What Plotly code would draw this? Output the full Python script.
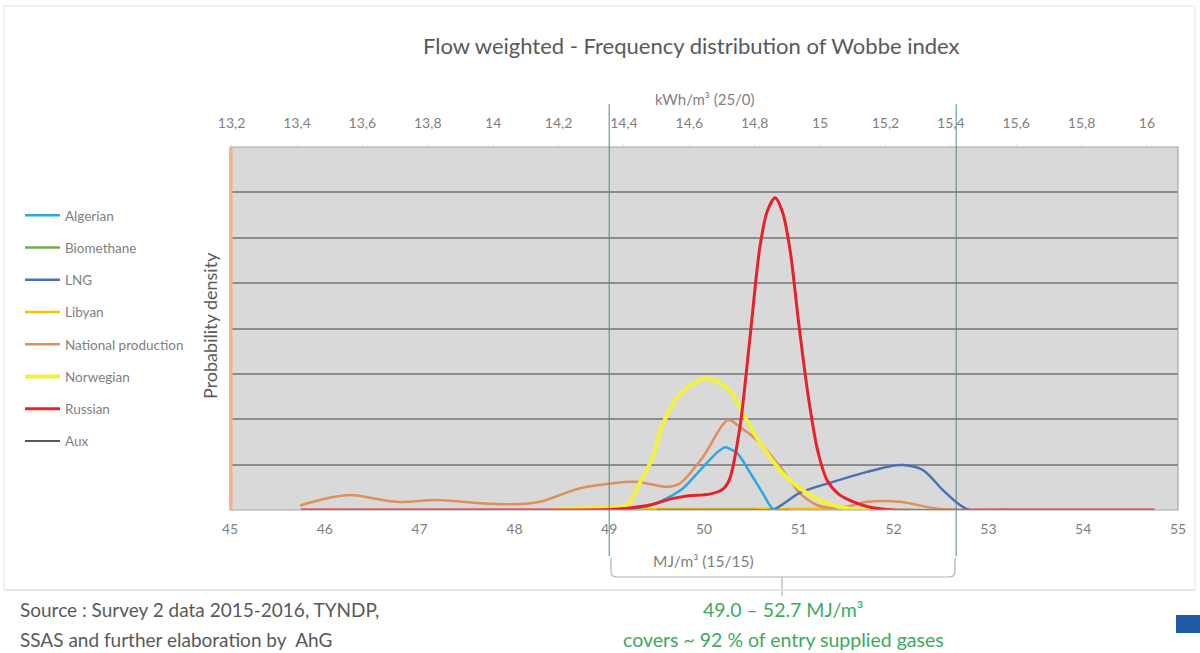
import plotly.graph_objects as go

# ---------------- data ----------------
series_names = ["Algerian", "Biomethane", "LNG", "Libyan", "National production",
                "Norwegian", "Russian", "Aux"]

algerian_x = [48.8, 49.2, 49.43, 49.6, 49.78, 49.96, 50.14, 50.22, 50.35, 50.49, 50.62, 50.73, 50.9]
algerian_y = [0, 0.02, 0.1, 0.25, 0.48, 0.88, 1.27, 1.38, 1.25, 0.81, 0.37, 0.02, 0]

biomethane_x = [49.3, 50.0, 51.0, 52.0, 52.6]
biomethane_y = [0, 0, 0, 0, 0]

lng_x = [49.5, 50.0, 50.5, 50.73, 51.01, 51.36, 51.72, 51.95, 52.1, 52.31, 52.52, 52.7, 52.8, 53.2]
lng_y = [0, 0, 0, 0.01, 0.38, 0.62, 0.84, 0.96, 0.99, 0.88, 0.44, 0.11, 0, 0]

libyan_x = [48.5, 49.5, 50.5, 51.3, 51.7, 52.0]
libyan_y = [0.01, 0.02, 0.02, 0.03, 0.02, 0]

national_x = [45.74, 46.0, 46.27, 46.76, 47.18, 47.64, 48.06, 48.27, 48.69, 49.04, 49.29, 49.61,
              49.75, 49.99, 50.25, 50.38, 50.59, 50.83, 51.01, 51.19, 51.32, 51.54, 51.72, 52.07,
              52.42, 52.67]
national_y = [0.1, 0.25, 0.33, 0.18, 0.22, 0.15, 0.13, 0.18, 0.48, 0.59, 0.62, 0.51,
              0.59, 1.17, 1.98, 1.83, 1.48, 0.88, 0.37, 0.11, 0.05, 0.09, 0.18, 0.18,
              0.04, 0.0]

norwegian_x = [48.4, 48.8, 49.1, 49.2, 49.32, 49.47, 49.54, 49.72, 49.9, 50.05, 50.27, 50.45,
               50.62, 50.83, 51.09, 51.36, 51.61, 51.8]
norwegian_y = [0.02, 0.04, 0.06, 0.12, 0.59, 1.21, 1.76, 2.49, 2.8, 2.9, 2.64, 1.98,
               1.39, 0.81, 0.37, 0.11, 0.01, 0]

russian_x = [45.75, 46.5, 47.5, 48.5, 49.0, 49.2, 49.43, 49.64, 49.82, 50.06, 50.2, 50.27, 50.38,
             50.48, 50.59, 50.67, 50.75, 50.83, 50.91, 51.0, 51.1, 51.2, 51.3, 51.42, 51.55,
             51.75, 52.0, 53.0, 54.0, 54.75]
russian_y = [0, 0, 0, 0, 0.01, 0.04, 0.11, 0.24, 0.31, 0.35, 0.46, 0.68, 1.84,
             3.7, 5.8, 6.6, 6.88, 6.55, 5.7, 4.1, 2.5, 1.3, 0.65, 0.35, 0.2,
             0.06, 0.0, 0, 0, 0]

aux_x = [45.75, 54.75]
aux_y = [0, 0]

mj_ticks = [45, 46, 47, 48, 49, 50, 51, 52, 53, 54, 55]
kwh_ticks = [13.2, 13.4, 13.6, 13.8, 14.0, 14.2, 14.4, 14.6, 14.8, 15.0, 15.2, 15.4, 15.6, 15.8, 16.0]
kwh_ticktext = ["13,2", "13,4", "13,6", "13,8", "14", "14,2", "14,4", "14,6", "14,8", "15",
                "15,2", "15,4", "15,6", "15,8", "16"]

band_low, band_high = 49.0, 52.66

# ---------------- layout helpers ----------------
W, H = 1200, 653
L, R, T, B = 230, 1178, 147, 510

def px(xp):
    return (xp - L) / (R - L)

def py(yp):
    return (B - yp) / (B - T)

FONT = "Lato"
GRAY = "#7f7f7f"
DGRAY = "#595959"

fig = go.Figure()

styles = {
    "Aux": ("#595959", 2, aux_x, aux_y, 8),
    "Biomethane": ("#70ad47", 2.5, biomethane_x, biomethane_y, 2),
    "Libyan": ("#ffc000", 2.5, libyan_x, libyan_y, 4),
    "National production": ("#dd8f5c", 2.5, national_x, national_y, 5),
    "LNG": ("#4d6fb5", 2.5, lng_x, lng_y, 3),
    "Algerian": ("#2aa9e0", 2.5, algerian_x, algerian_y, 1),
    "Norwegian": ("#f2f23c", 4, norwegian_x, norwegian_y, 6),
    "Russian": ("#e8202a", 3, russian_x, russian_y, 7),
}
draw_order = ["Aux", "Biomethane", "Libyan", "National production", "LNG", "Algerian",
              "Norwegian", "Russian"]
for name in draw_order:
    col, w, xs, ys, rank = styles[name]
    fig.add_trace(go.Scatter(
        x=xs, y=ys, mode="lines", name=name,
        line=dict(color=col, width=w, shape="spline", smoothing=0.8),
        legendgroup=name, legendrank=rank, hoverinfo="skip"))

# invisible trace to activate top axis
fig.add_trace(go.Scatter(x=[kwh_ticks[0], kwh_ticks[-1]], y=[None, None], xaxis="x2",
                         mode="lines", showlegend=False, hoverinfo="skip"))

fig.update_layout(
    width=W, height=H,
    margin=dict(l=L, r=W - R, t=T, b=H - B),
    paper_bgcolor="white",
    plot_bgcolor="#d9d9d9",
    font=dict(family=FONT, color=GRAY, size=12),
    showlegend=True,
    legend=dict(x=px(20), y=py(200), xanchor="left", yanchor="top",
                font=dict(family=FONT, size=13.5, color=GRAY),
                traceorder="grouped", tracegroupgap=11.7,
                itemwidth=35,
                bgcolor="rgba(0,0,0,0)"),
    xaxis=dict(range=[45, 55], tickvals=mj_ticks, showgrid=False, zeroline=False,
               showline=False, ticks="", ticklabelstandoff=9,
               tickfont=dict(family=FONT, size=14, color=GRAY)),
    xaxis2=dict(range=[13.195, 16.095], overlaying="x", side="top", tickvals=kwh_ticks,
                ticktext=kwh_ticktext, showgrid=False, zeroline=False, showline=False,
                ticks="outside", ticklen=3, tickcolor="#e6e6e6", ticklabelstandoff=9,
                tickfont=dict(family=FONT, size=14, color=GRAY)),
    yaxis=dict(range=[0, 8], dtick=1, showticklabels=False, showgrid=True,
               gridcolor="#8c8c8c", gridwidth=1.5, zeroline=False, showline=False),
)

shapes = []
# plot border
shapes.append(dict(type="rect", xref="paper", yref="paper", x0=0, x1=1, y0=0, y1=1,
                   line=dict(color="#a6a6a6", width=1.2), layer="above"))
# left orange border
shapes.append(dict(type="line", xref="paper", yref="paper", x0=px(231), x1=px(231), y0=0, y1=1,
                   line=dict(color="#f4b183", width=3), layer="above"))
# outer chart box
shapes.append(dict(type="rect", xref="paper", yref="paper", x0=px(4), x1=px(1195),
                   y0=py(590), y1=py(6), line=dict(color="#e3e3e3", width=1), layer="below"))
# teal band lines
for xv in (band_low, band_high):
    shapes.append(dict(type="line", xref="x", yref="paper", x0=xv, x1=xv,
                       y0=py(556), y1=py(104), line=dict(color="#4a8c80", width=1),
                       layer="above"))
# bracket
bx0, bx1, bxm = 611, 955, 782
path = (f"M {px(bx0)},{py(558)} L {px(bx0)},{py(572)} Q {px(bx0)},{py(577)} {px(bx0+6)},{py(577)} "
        f"L {px(bx1-6)},{py(577)} Q {px(bx1)},{py(577)} {px(bx1)},{py(572)} L {px(bx1)},{py(558)}")
shapes.append(dict(type="path", xref="paper", yref="paper", path=path,
                   line=dict(color="#aab4b8", width=1.2)))
shapes.append(dict(type="line", xref="paper", yref="paper", x0=px(bxm), x1=px(bxm),
                   y0=py(577), y1=py(596), line=dict(color="#aab4b8", width=1.2)))
# separator
shapes.append(dict(type="line", xref="paper", yref="paper", x0=px(4), x1=px(1195),
                   y0=py(590), y1=py(590), line=dict(color="#e3e3e3", width=1.5)))
# blue block
shapes.append(dict(type="rect", xref="paper", yref="paper", x0=px(1176), x1=px(1200),
                   y0=py(633), y1=py(615), fillcolor="#1f5aa6", line=dict(width=0)))
fig.update_layout(shapes=shapes)

ann = []
def text(x, y, s, size, color, xanchor="center", angle=0):
    ann.append(dict(xref="paper", yref="paper", x=px(x), y=py(y), text=s, showarrow=False,
                    xanchor=xanchor, yanchor="middle", textangle=angle,
                    font=dict(family=FONT, size=size, color=color)))

text(691, 45, "Flow weighted - Frequency distribution of Wobbe index", 22, DGRAY)
text(705, 99, "kWh/m³ (25/0)", 15, GRAY)
text(210, 326, "Probability density", 18, DGRAY, angle=-90)
text(703, 561, "MJ/m³ (15/15)", 15.5, GRAY)
text(18, 609, "Source : Survey 2 data 2015-2016, TYNDP,", 19, DGRAY, xanchor="left")
text(18, 639, "SSAS and further elaboration by  AhG", 19, DGRAY, xanchor="left")
text(783, 609, "49.0 – 52.7 MJ/m³", 19.5, "#3aaa5e")
text(783, 639, "covers ~ 92 % of entry supplied gases", 19.5, "#3aaa5e")
fig.update_layout(annotations=ann)

fig.write_html("out.html")
